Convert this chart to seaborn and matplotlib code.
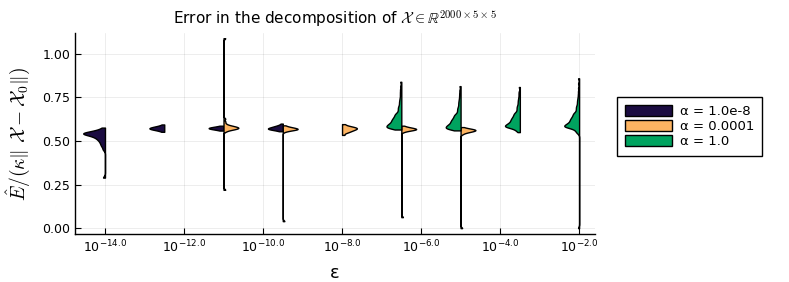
import matplotlib
matplotlib.use("Agg")
import matplotlib.pyplot as plt
from matplotlib.patches import Patch
from matplotlib.ticker import NullLocator
import pandas as pd
import seaborn as sns

# Legend entries and colours (one per alpha)
alpha_labels = ["α = 1.0e-8", "α = 0.0001", "α = 1.0"]
alpha_colors = ["#1b0c41", "#fdb462", "#00a35f"]

# alpha = 1e-8 (left halves)
eps_a8 = [1e-14, 10**-12.5, 1e-11, 10**-9.5]
samples_a8 = [
    [0.577, 0.566, 0.561, 0.557, 0.554, 0.552, 0.549, 0.547, 0.545, 0.545, 0.544,
     0.543, 0.541, 0.539, 0.537, 0.535, 0.532, 0.529, 0.526, 0.522, 0.518, 0.513,
     0.508, 0.502, 0.495, 0.487, 0.478, 0.468, 0.452, 0.290],
    [0.553, 0.5597, 0.5625, 0.5646, 0.5664, 0.568, 0.5695, 0.5708, 0.572, 0.5732,
     0.5744, 0.5757, 0.5772, 0.5787, 0.5805, 0.5824, 0.5847, 0.5877, 0.595],
    [0.560, 0.565, 0.567, 0.5686, 0.5699, 0.5711, 0.5721, 0.5731, 0.574, 0.5749,
     0.5759, 0.5769, 0.5781, 0.5794, 0.581, 0.583, 0.588],
    [0.556, 0.5617, 0.564, 0.5658, 0.5673, 0.5687, 0.5699, 0.571, 0.572, 0.5734,
     0.575, 0.5766, 0.5783, 0.5802, 0.5823, 0.5847, 0.5875, 0.5912, 0.600],
]

# alpha = 1e-4 (right halves)
eps_a4 = [1e-11, 10**-9.5, 1e-8, 10**-6.5, 1e-5]
samples_a4 = [
    [0.220, 0.555, 0.5621, 0.565, 0.5672, 0.5691, 0.5708, 0.5723, 0.5737, 0.575,
     0.5763, 0.5777, 0.5791, 0.5806, 0.5823, 0.5842, 0.5863, 0.5888, 0.5921, 0.600,
     0.612, 0.628, 1.090],
    [0.040, 0.555, 0.5603, 0.5625, 0.5642, 0.5656, 0.5669, 0.568, 0.569, 0.570,
     0.5713, 0.5727, 0.5742, 0.5759, 0.5778, 0.580, 0.5829, 0.590],
    [0.535, 0.5467, 0.5515, 0.5553, 0.5584, 0.5612, 0.5637, 0.566, 0.5681, 0.5701,
     0.572, 0.5737, 0.5754, 0.5772, 0.5793, 0.5817, 0.5845, 0.5882, 0.597],
    [0.063, 0.553, 0.5587, 0.561, 0.5628, 0.5643, 0.5657, 0.5669, 0.568, 0.569,
     0.5702, 0.5715, 0.573, 0.5746, 0.5764, 0.5785, 0.5813, 0.588],
    [0.000, 0.540, 0.5473, 0.5503, 0.5526, 0.5545, 0.5563, 0.5578, 0.5593, 0.5606,
     0.5618, 0.563, 0.5641, 0.5653, 0.5666, 0.568, 0.5696, 0.5715, 0.574, 0.580],
]

# alpha = 1 (left halves)
eps_a0 = [10**-6.5, 1e-5, 10**-3.5, 1e-2]
samples_a0 = [
    [0.566, 0.568, 0.570, 0.572, 0.574, 0.576, 0.577, 0.578, 0.579, 0.580, 0.581,
     0.582, 0.584, 0.586, 0.587, 0.588, 0.590, 0.591, 0.592, 0.594, 0.596, 0.597,
     0.599, 0.600, 0.602, 0.603, 0.606, 0.608, 0.610, 0.612, 0.614, 0.616, 0.618,
     0.620, 0.622, 0.624, 0.627, 0.629, 0.631, 0.634, 0.636, 0.639, 0.642, 0.645,
     0.648, 0.651, 0.654, 0.657, 0.660, 0.665, 0.671, 0.677, 0.683, 0.689, 0.695,
     0.701, 0.710, 0.719, 0.728, 0.738, 0.750, 0.765, 0.780, 0.796, 0.815, 0.840],
    [0.561, 0.563, 0.565, 0.567, 0.569, 0.571, 0.572, 0.573, 0.574, 0.575, 0.576,
     0.577, 0.579, 0.581, 0.582, 0.583, 0.585, 0.586, 0.587, 0.589, 0.591, 0.592,
     0.594, 0.595, 0.597, 0.598, 0.601, 0.603, 0.605, 0.607, 0.609, 0.611, 0.613,
     0.615, 0.617, 0.619, 0.622, 0.624, 0.626, 0.629, 0.631, 0.634, 0.637, 0.640,
     0.643, 0.646, 0.649, 0.652, 0.655, 0.660, 0.666, 0.672, 0.678, 0.684, 0.690,
     0.697, 0.706, 0.715, 0.724, 0.734, 0.746, 0.760, 0.775, 0.792, 0.815],
    [0.551, 0.557, 0.562, 0.566, 0.570, 0.573, 0.576, 0.578, 0.579, 0.580, 0.581,
     0.582, 0.583, 0.584, 0.585, 0.586, 0.588, 0.589, 0.590, 0.591, 0.593, 0.594,
     0.595, 0.597, 0.599, 0.600, 0.602, 0.603, 0.605, 0.606, 0.609, 0.611, 0.613,
     0.615, 0.617, 0.619, 0.621, 0.623, 0.625, 0.627, 0.630, 0.632, 0.634, 0.637,
     0.639, 0.642, 0.645, 0.648, 0.651, 0.654, 0.657, 0.660, 0.663, 0.668, 0.674,
     0.680, 0.686, 0.692, 0.698, 0.704, 0.713, 0.722, 0.731, 0.741, 0.753, 0.768,
     0.783, 0.810],
    [0.000, 0.545, 0.551, 0.557, 0.562, 0.566, 0.570, 0.573, 0.576, 0.578, 0.579,
     0.580, 0.581, 0.582, 0.583, 0.584, 0.585, 0.586, 0.588, 0.589, 0.590, 0.591,
     0.593, 0.594, 0.595, 0.597, 0.599, 0.600, 0.602, 0.603, 0.605, 0.606, 0.609,
     0.611, 0.613, 0.615, 0.617, 0.619, 0.621, 0.623, 0.625, 0.627, 0.630, 0.632,
     0.634, 0.637, 0.639, 0.642, 0.645, 0.648, 0.651, 0.654, 0.657, 0.660, 0.663,
     0.668, 0.674, 0.680, 0.686, 0.692, 0.698, 0.704, 0.713, 0.722, 0.731, 0.741,
     0.753, 0.768, 0.785, 0.805, 0.830, 0.860],
]

tick_exponents = [-14, -12, -10, -8, -6, -4, -2]
y_ticks = [0.0, 0.25, 0.5, 0.75, 1.0]


def fixed_bw(h):
    # absolute KDE bandwidth h, whatever the spread of the violin
    return lambda kde: h / kde.dataset.std(ddof=1)


def long_table(labels, eps_lists, samp_lists):
    rows = []
    for label, eps_list, samp_list in zip(labels, eps_lists, samp_lists):
        for e, samp in zip(eps_list, samp_list):
            for v in samp:
                rows.append((e, v, label))
    return pd.DataFrame(rows, columns=["eps", "err", "alpha"])


df_small = long_table(alpha_labels[:2], [eps_a8, eps_a4], [samples_a8, samples_a4])
df_big = long_table(alpha_labels[2:], [eps_a0], [samples_a0])
is_first = df_small["eps"] == eps_a8[0]

fig = plt.figure(figsize=(7.89, 2.82), dpi=100)
ax = fig.add_axes([0.095, 0.17, 0.659, 0.713])

violin_kw = dict(x="eps", y="err", hue="alpha", saturation=1, split=True, dodge=True,
                 native_scale=True, log_scale=(10, False), cut=0, gridsize=1500,
                 inner=None, density_norm="width", linecolor="black", linewidth=1,
                 legend=False, ax=ax)
pair_small = dict(hue_order=[alpha_labels[0], alpha_labels[1]],
                  palette=[alpha_colors[0], alpha_colors[1]])

# 1e-8 on the left, 1e-4 on the right
sns.violinplot(data=df_small[~is_first], width=0.5, bw_method=fixed_bw(0.0055),
               **pair_small, **violin_kw)
# the widest violin, at eps = 1e-14, drawn on its own
sns.violinplot(data=df_small[is_first], width=1.1, bw_method=fixed_bw(0.009),
               **pair_small, **violin_kw)
# alpha = 1 goes on the left side again
sns.violinplot(data=df_big, width=0.5, bw_method=fixed_bw(0.008),
               hue_order=[alpha_labels[2], alpha_labels[1]],
               palette=[alpha_colors[2], alpha_colors[1]], **violin_kw)

ax.set_xticks([10.0**e for e in tick_exponents])
ax.set_xticklabels([f"$10^{{{e:.1f}}}$" for e in tick_exponents])
ax.xaxis.set_minor_locator(NullLocator())
ax.set_yticks(y_ticks)
ax.set_yticklabels([f"{v:.2f}" for v in y_ticks])
ax.set_xlim(10**-14.76, 10**-1.6)
ax.set_ylim(-0.034, 1.12)

ax.grid(True, color="black", alpha=0.1, linewidth=0.5)
ax.set_axisbelow(True)
for s in ["top", "right"]:
    ax.spines[s].set_visible(False)
for s in ["left", "bottom"]:
    ax.spines[s].set_linewidth(1)
ax.tick_params(direction="in", length=4, width=0.8, labelsize=9)

ax.set_title("Error in the decomposition of $\\mathcal{X} \\in \\mathbb{R}^{2000\\times5\\times5}$",
             fontsize=11, math_fontfamily="cm", pad=6)
ax.set_ylabel(r"$\hat{E}/(\kappa\Vert\ \mathcal{X} - \mathcal{X}_0\Vert)$",
              fontsize=14, math_fontfamily="cm", labelpad=7)
ax.set_xlabel("ε", fontsize=13, labelpad=6)

handles = [Patch(facecolor=c, edgecolor="black", linewidth=1, label=l)
           for c, l in zip(alpha_colors, alpha_labels)]
leg = ax.legend(handles=handles, loc="upper left", bbox_to_anchor=(1.042, 0.68),
                borderaxespad=0, fontsize=9.5, handlelength=3.6, handleheight=0.85,
                labelspacing=0.15, fancybox=False, edgecolor="black", framealpha=1,
                borderpad=0.6, handletextpad=0.6)
leg.get_frame().set_linewidth(1)

fig.savefig("out.png", dpi=100)
